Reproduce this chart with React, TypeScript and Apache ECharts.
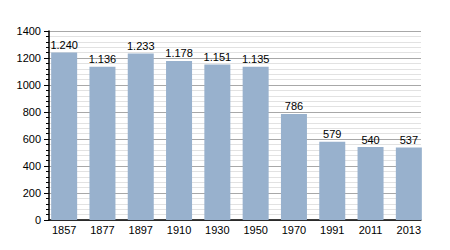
import React, { useEffect, useRef } from "react";
import * as echarts from "echarts";

const years = ["1857", "1877", "1897", "1910", "1930", "1950", "1970", "1991", "2011", "2013"];
const population = [1240, 1136, 1233, 1178, 1151, 1135, 786, 579, 540, 537];
const yMin = 0;
const yMax = 1400;
const yStep = 200;

const fmt = (v: number) => String(v).replace(/\B(?=(\d{3})+(?!\d))/g, ".");

export default function App() {
  const ref = useRef<HTMLDivElement>(null);
  useEffect(() => {
    if (!ref.current) return;
    const chart = echarts.init(ref.current, undefined, { renderer: "svg" });
    const font = "'Liberation Sans', Arial, sans-serif";
    chart.setOption({
      animation: false,
      backgroundColor: "#ffffff",
      grid: [
        { left: 41, top: 23, width: 372, height: 189, containLabel: false },
        { left: 37, top: 23, width: 383, height: 189, containLabel: false },
      ],
      xAxis: [
        {
          gridIndex: 0,
          type: "category",
          data: years,
          axisLine: { show: true, lineStyle: { color: "#000", width: 1.5 } },
          axisTick: { show: false },
          axisLabel: { show: false },
          splitLine: { show: false },
        },
        {
          gridIndex: 1,
          type: "category",
          data: years,
          axisLine: { show: false },
          axisTick: { show: false },
          axisLabel: { color: "#000", fontSize: 11, fontFamily: font, margin: 4 },
          splitLine: { show: false },
        },
      ],
      yAxis: [
        {
          gridIndex: 0,
          type: "value",
          min: yMin,
          max: yMax,
          interval: yStep,
          axisLine: { show: true, lineStyle: { color: "#000", width: 1.5 } },
          axisTick: { show: true, length: 5, lineStyle: { color: "#000" } },
          minorTick: { show: true, splitNumber: 5, length: 3, lineStyle: { color: "#000" } },
          axisLabel: { color: "#000", fontSize: 11, fontFamily: font, margin: 8, formatter: (v: number) => String(v) },
          splitLine: { show: true, lineStyle: { color: "#a8a8a8", width: 1 } },
          minorSplitLine: { show: true, lineStyle: { color: "#e2e2e2", width: 1 } },
        },
        {
          gridIndex: 1,
          type: "value",
          min: yMin,
          max: yMax,
          interval: yStep,
          show: false,
          splitLine: { show: false },
        },
      ],
      series: [
        {
          type: "bar",
          xAxisIndex: 1,
          yAxisIndex: 1,
          data: population,
          barWidth: 26,
          itemStyle: { color: "#98b1cd" },
          label: {
            show: true,
            position: "top",
            distance: 2,
            color: "#000",
            fontSize: 11,
            fontFamily: font,
            formatter: (p: any) => fmt(p.value),
          },
        },
      ],
    });
    return () => chart.dispose();
  }, []);
  return <div ref={ref} style={{ width: 434, height: 234 }} />;
}
